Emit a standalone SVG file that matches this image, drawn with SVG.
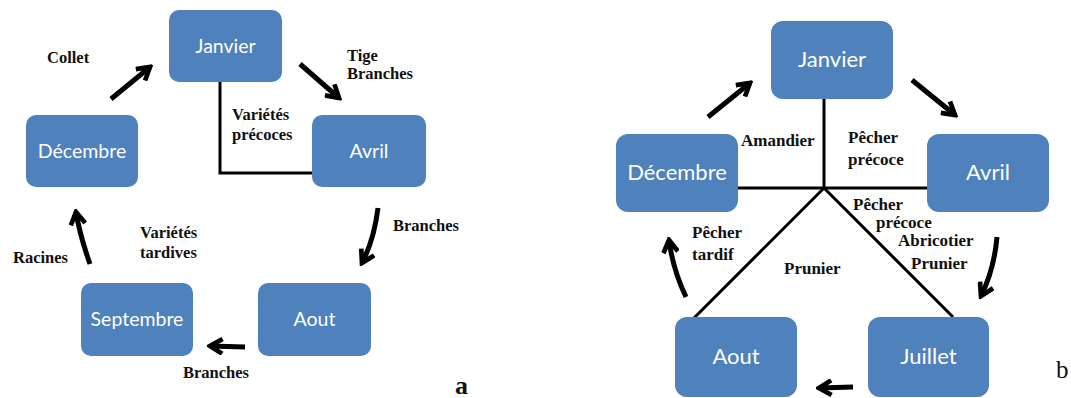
<svg xmlns="http://www.w3.org/2000/svg" width="1071" height="398" viewBox="0 0 1071 398">
<style>
.node rect{fill:#4f81bd;}
.na text{font-family:Lato,"Open Sans",sans-serif;font-size:19.5px;fill:#fff;text-anchor:middle;}
.nb text{font-family:Lato,"Open Sans",sans-serif;font-size:22px;fill:#fff;text-anchor:middle;}
.line{stroke:#000;stroke-width:3;fill:none;}
.arr{stroke:#000;stroke-width:5;fill:none;marker-end:url(#head);}
.lbl{font-family:"Liberation Serif",serif;font-weight:bold;font-size:16.5px;fill:#111;}
.lblb{font-family:"Liberation Serif",serif;font-weight:bold;font-size:17px;fill:#111;}
</style>
<defs>
<marker id="head" viewBox="0 0 16 16" refX="13" refY="8" markerWidth="18" markerHeight="18" markerUnits="userSpaceOnUse" orient="auto">
<path d="M2,1.5 L13,8 L2,14.5" fill="none" stroke="#000" stroke-width="4.2"/>
</marker>
</defs>
<rect width="1071" height="398" fill="#fff"/>

<!-- Panel a -->
<g id="connectors-a">
<path class="line" d="M220,82 V173 H312"/>
<path class="arr" d="M111,99 L150,67"/>
<path class="arr" d="M300,64 L339,98"/>
<path class="arr" d="M378,208 Q374,240 362,263"/>
<path class="arr" d="M245,347 L210,346"/>
<path class="arr" d="M90,264 Q80,236 76,212"/>
</g>
<g id="a-janvier" class="node na"><rect x="169" y="10" width="113" height="72" rx="10"/><text x="225.5" y="53">Janvier</text></g>
<g id="a-decembre" class="node na"><rect x="26" y="115" width="112" height="72" rx="10"/><text x="82" y="158">Décembre</text></g>
<g id="a-avril" class="node na"><rect x="312" y="115" width="114" height="72" rx="10"/><text x="369" y="158">Avril</text></g>
<g id="a-septembre" class="node na"><rect x="81" y="283" width="112" height="73" rx="10"/><text x="137" y="326">Septembre</text></g>
<g id="a-aout" class="node na"><rect x="258" y="283" width="113" height="73" rx="10"/><text x="314.5" y="326">Aout</text></g>
<g id="labels-a">
<text class="lbl" x="47" y="63">Collet</text>
<text class="lbl" x="347" y="61">Tige</text>
<text class="lbl" x="347" y="79">Branches</text>
<text class="lbl" x="232" y="120">Variétés</text>
<text class="lbl" x="232" y="140">précoces</text>
<text class="lbl" x="393" y="231">Branches</text>
<text class="lbl" x="140" y="238">Variétés</text>
<text class="lbl" x="140" y="258">tardives</text>
<text class="lbl" x="13" y="263">Racines</text>
<text class="lbl" x="183" y="378">Branches</text>
<text x="455" y="394" font-family="Liberation Serif,serif" font-weight="bold" font-size="26" fill="#111">a</text>
</g>

<!-- Panel b -->
<g id="connectors-b">
<path class="line" d="M824,99 V188"/>
<path class="line" d="M738,188 H927"/>
<path class="line" d="M694,318 L824,188 L953,317"/>
<path class="arr" d="M708,117 L750,83"/>
<path class="arr" d="M912,80 L955,115"/>
<path class="arr" d="M997,237 Q994,270 981,296"/>
<path class="arr" d="M853,387 L819,388"/>
<path class="arr" d="M686,297 Q673,270 669,240"/>
</g>
<g id="b-janvier" class="node nb"><rect x="771" y="21" width="122" height="78" rx="12"/><text x="832" y="67">Janvier</text></g>
<g id="b-decembre" class="node nb"><rect x="616" y="134" width="122" height="78" rx="12"/><text x="677" y="180">Décembre</text></g>
<g id="b-avril" class="node nb"><rect x="927" y="134" width="122" height="78" rx="12"/><text x="988" y="180">Avril</text></g>
<g id="b-aout" class="node nb"><rect x="675" y="317" width="122" height="80" rx="12"/><text x="736" y="364">Aout</text></g>
<g id="b-juillet" class="node nb"><rect x="868" y="317" width="121" height="80" rx="12"/><text x="928.5" y="364">Juillet</text></g>
<g id="labels-b">
<text class="lblb" x="741" y="146">Amandier</text>
<text class="lblb" x="848" y="143">Pêcher</text>
<text class="lblb" x="848" y="165">précoce</text>
<text class="lblb" x="853" y="210">Pêcher</text>
<text class="lblb" x="876" y="228">précoce</text>
<text class="lblb" x="898" y="246">Abricotier</text>
<text class="lblb" x="911" y="269">Prunier</text>
<text class="lblb" x="692" y="238">Pêcher</text>
<text class="lblb" x="692" y="260">tardif</text>
<text class="lblb" x="784" y="274">Prunier</text>
<text x="1056" y="378" font-family="Liberation Serif,serif" font-size="25" fill="#111">b</text>
</g>
</svg>
